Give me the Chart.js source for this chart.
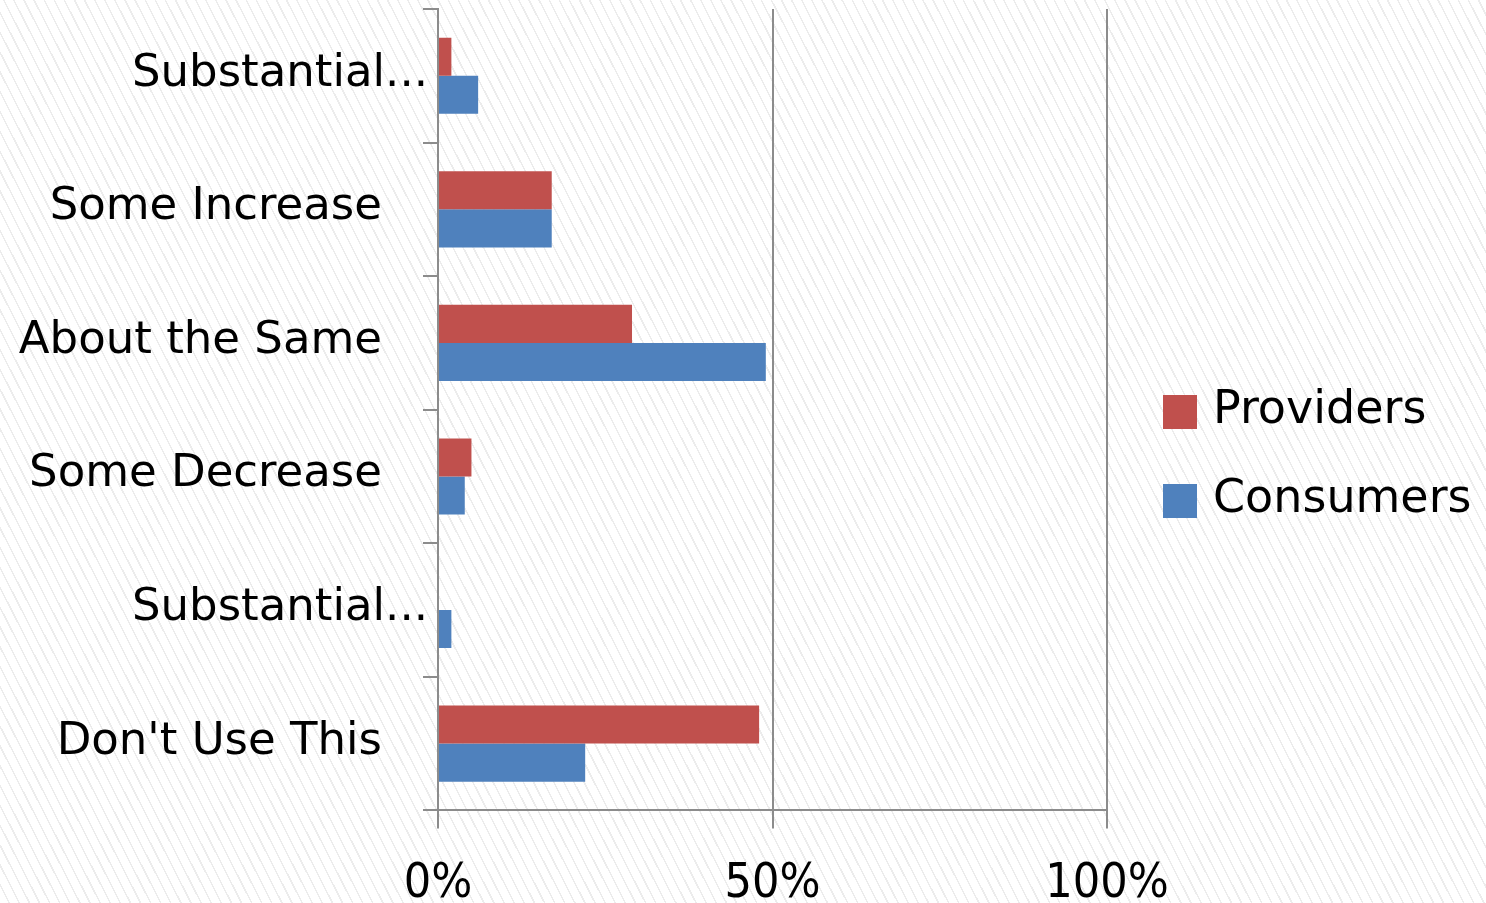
<!DOCTYPE html>
<html>
<head>
<meta charset="utf-8">
<style>
  html, body { margin: 0; padding: 0; overflow: hidden; }
  body {
    width: 1486px; height: 903px;
    background: repeating-linear-gradient(63deg, #ffffff 0px, #ffffff 7.5px, #ececec 7.5px, #ececec 9px);
  }
  #wrap { position: relative; width: 1486px; height: 962px; }
</style>
</head>
<body>
<div id="wrap">
  <canvas id="usageChart"></canvas>
</div>

<script src="https://cdn.jsdelivr.net/npm/chart.js"></script>
<script>
  // categories as shown on the axis (Excel truncated the long ones)
  const categories = ['Substantial...', 'Some Increase', 'About the Same', 'Some Decrease', 'Substantial...', "Don't Use This"];
  const providers = [2, 17, 29, 5, 0, 48];
  const consumers = [6, 17, 49, 4, 2, 22];
  const xTicks = [0, 50, 100];

  const FONT = "'DejaVu Sans', Verdana, sans-serif";
  const FONT_COND = "'DejaVu Sans Condensed', 'DejaVu Sans', sans-serif";
  const AXIS_GRAY = '#8c8c8c';

  // category labels drawn by hand so truncated ones can sit closer to the axis like in Excel
  const categoryLabels = {
    id: 'categoryLabels',
    afterDraw(chart) {
      const { ctx, chartArea, scales } = chart;
      ctx.save();
      ctx.font = '45px ' + FONT;
      ctx.fillStyle = '#000';
      ctx.textAlign = 'right';
      ctx.textBaseline = 'alphabetic';
      chart.data.labels.forEach((lbl, i) => {
        const y = scales.y.getPixelForValue(i);
        const x = lbl.endsWith('...') ? chartArea.left - 10 : chartArea.left - 56;
        ctx.fillText(lbl, x, y + 10);
      });
      ctx.restore();
    }
  };

  // legend on the right, Excel style
  const sideLegend = {
    id: 'sideLegend',
    afterDraw(chart) {
      const { ctx } = chart;
      const x0 = 1163, y0 = 395, step = 89, box = 34;
      ctx.save();
      ctx.font = '46px ' + FONT;
      ctx.textAlign = 'left';
      ctx.textBaseline = 'alphabetic';
      chart.data.datasets.forEach((ds, i) => {
        const y = y0 + i * step;
        ctx.fillStyle = ds.backgroundColor;
        ctx.fillRect(x0, y, box, box);
        ctx.fillStyle = '#000';
        ctx.fillText(ds.label, x0 + box + 16, y + box / 2 + 11);
      });
      ctx.restore();
    }
  };

  new Chart(document.getElementById('usageChart'), {
    type: 'bar',
    data: {
      labels: categories,
      datasets: [
        { label: 'Providers', data: providers, backgroundColor: '#C0504D', borderWidth: 0 },
        { label: 'Consumers', data: consumers, backgroundColor: '#4F81BD', borderWidth: 0 }
      ]
    },
    options: {
      indexAxis: 'y',
      responsive: true,
      maintainAspectRatio: false,
      animation: false,
      categoryPercentage: 0.57,
      barPercentage: 1.0,
      layout: { padding: { left: 423, right: 379, top: 9, bottom: 22 } },
      plugins: {
        legend: { display: false },
        tooltip: { enabled: false }
      },
      scales: {
        x: {
          min: 0,
          max: 100,
          afterBuildTicks: axis => { axis.ticks = xTicks.map(v => ({ value: v })); },
          ticks: {
            callback: v => v + '%',
            color: '#000',
            font: { family: FONT_COND, size: 48 },
            padding: 27,
            maxRotation: 0
          },
          grid: { color: AXIS_GRAY, lineWidth: 2, tickLength: 18 },
          border: { color: AXIS_GRAY, width: 2 }
        },
        y: {
          ticks: { display: false },
          grid: { drawOnChartArea: false, color: AXIS_GRAY, lineWidth: 2, tickLength: 15 },
          border: { color: AXIS_GRAY, width: 2 }
        }
      }
    },
    plugins: [categoryLabels, sideLegend]
  });
</script>
</body>
</html>
